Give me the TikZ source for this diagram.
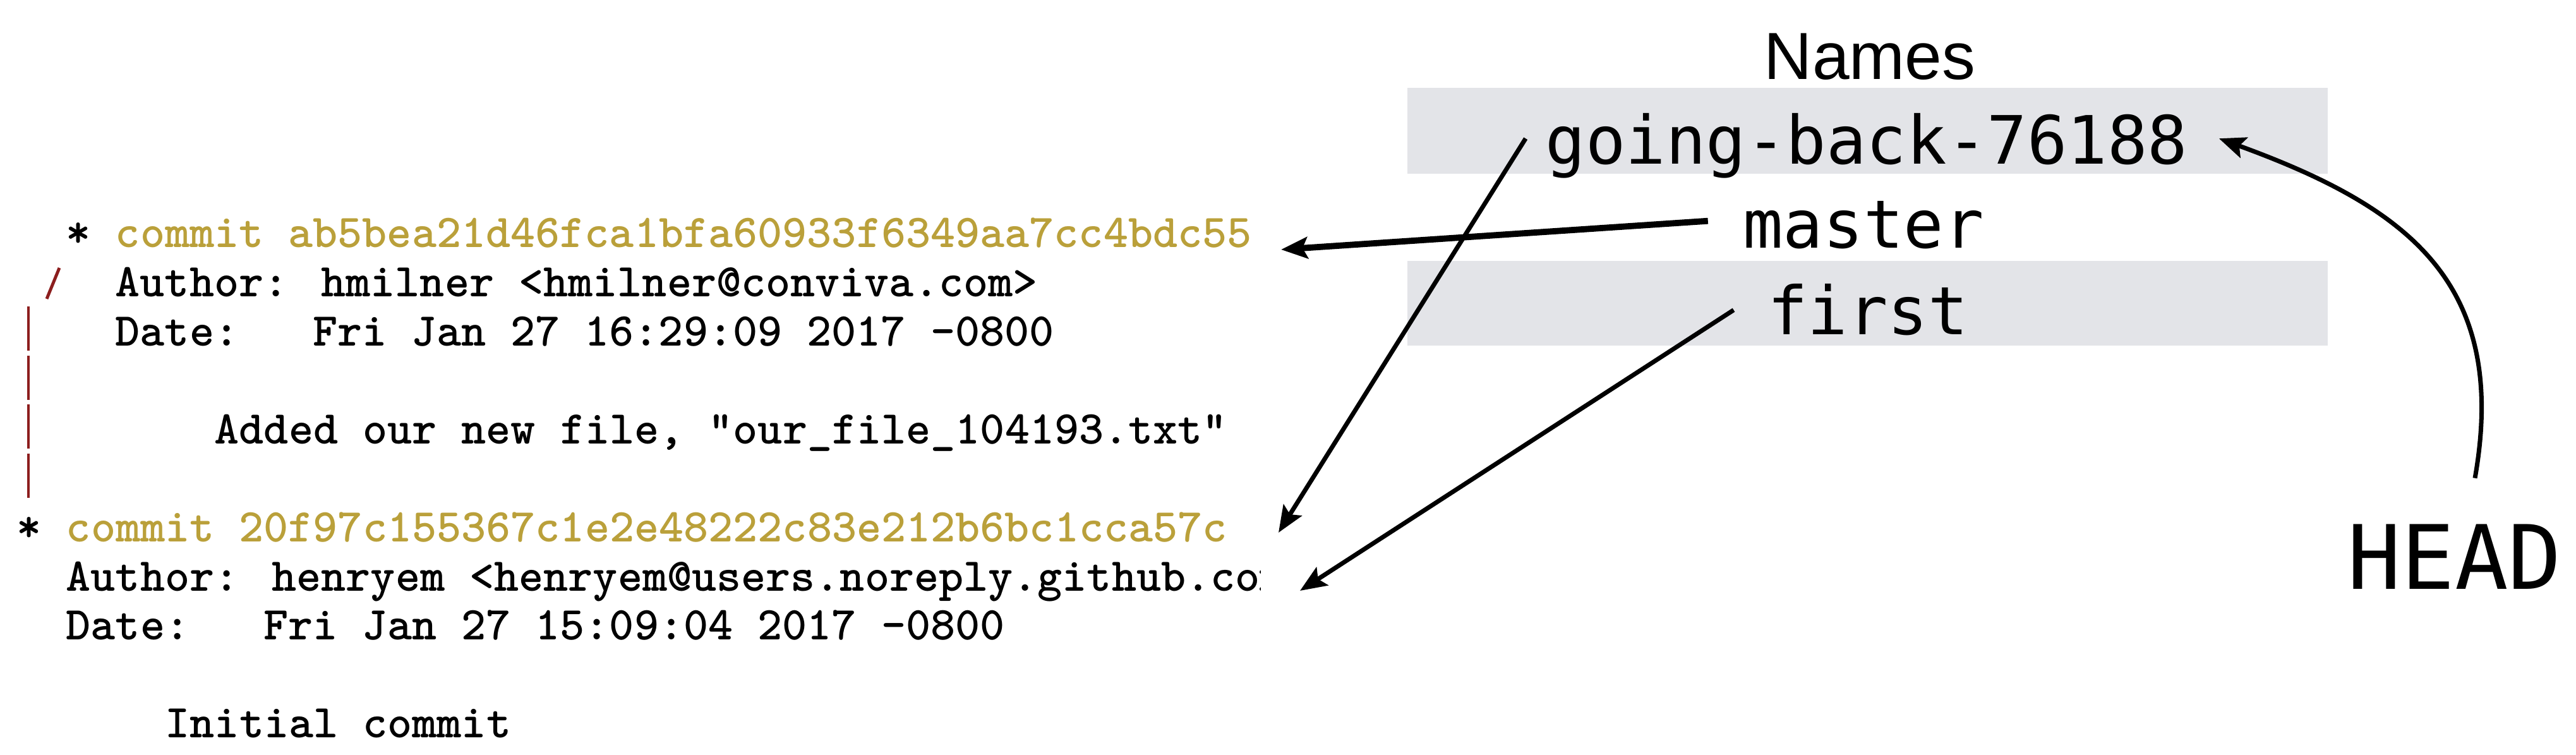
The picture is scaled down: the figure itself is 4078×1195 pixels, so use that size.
\documentclass[tikz,border=0pt]{standalone}
\usepackage{fontspec}
\usetikzlibrary{arrows.meta}
\newfontfamily\namefont{DejaVu Sans Mono}
\newfontfamily\titlefont{Liberation Sans}
\definecolor{hashgold}{RGB}{186,160,58}
\definecolor{graphred}{RGB}{140,30,30}
\definecolor{rowgray}{RGB}{227,228,232}

\begin{document}
\begin{tikzpicture}[
x=0.01cm, y=-0.01cm,
term/.style={anchor=base west, inner sep=0pt,
	font={\ttfamily\bfseries\fontsize{21.18pt}{23pt}\selectfont}},
refname/.style={anchor=base, inner sep=0pt,
	font={\namefont\fontsize{30pt}{32pt}\selectfont}},
title/.style={anchor=base, inner sep=0pt,
	font={\titlefont\fontsize{30pt}{32pt}\selectfont}},
graph/.style={graphred, line width=1.4pt},
pointer/.style={-{Stealth[length=0.42cm,width=0.34cm,inset=0.08cm]},
	line width=2pt}
]
\useasboundingbox (0,0) rectangle (4078,1195);

% git log --graph output, cut off on the right
\begin{scope}
\clip (0,0) rectangle (1995,1195);
\node[term] (hash1) at (104,392) {*\ \textcolor{hashgold}{commit ab5bea21d46fca1bfa60933f6349aa7cc4bdc55}};
\node[term] (author1) at (182,469.6) {Author: hmilner <hmilner@conviva.com>};
\node[term] (date1) at (182,547.2) {Date:\ \ \ Fri Jan 27 16:29:09 2017 -0800};
\node[term] (msg1) at (339,702.4) {Added our new file, "our\_file\_104193.txt"};
\node[term] (hash2) at (26,857.6) {*\ \textcolor{hashgold}{commit 20f97c155367c1e2e48222c83e212b6bc1cca57c}};
\node[term] (author2) at (104,935.2) {Author: henryem <henryem@users.noreply.github.com>};
\node[term] (date2) at (104,1012.8) {Date:\ \ \ Fri Jan 27 15:09:04 2017 -0800};
\node[term] (msg2) at (261,1168) {Initial commit};
\draw[graph] (94,424) -- (74,473);
\foreach \k in {2,...,5}
{
	\draw[graph] (45,392+77.6*\k-62) -- ++(0,70);
}
\end{scope}

% names
\fill[rowgray] (2228,139) rectangle (3685,275);
\fill[rowgray] (2228,413) rectangle (3685,547);
\node[title] (names) at (2960,126) {Names};
\node[refname] (gb) at (2955,260) {going-back-76188};
\node[refname] (master) at (2950,393) {master};
\node[refname] (first) at (2957,530) {first};
\node[refname, font={\namefont\fontsize{40pt}{42pt}\selectfont}] (head) at (3886,933) {HEAD};

\coordinate (tip1) at (2028,395);
\coordinate (tip2) at (2024,843);
\coordinate (tip3) at (2058,935);
\draw[pointer, line width=2.8pt] ([shift={(-55,-7)}]master.west) -- (tip1);
\draw[pointer] ([shift={(-31,-12)}]gb.west) -- (tip2);
\draw[pointer] ([shift={(-53,0)}]first.west) -- (tip3);
\draw[pointer] ([shift={(32,-73)}]head.north) to[out=80, in=-20, looseness=1.2] ([shift={(49,-12)}]gb.east);
\end{tikzpicture}
\end{document}
